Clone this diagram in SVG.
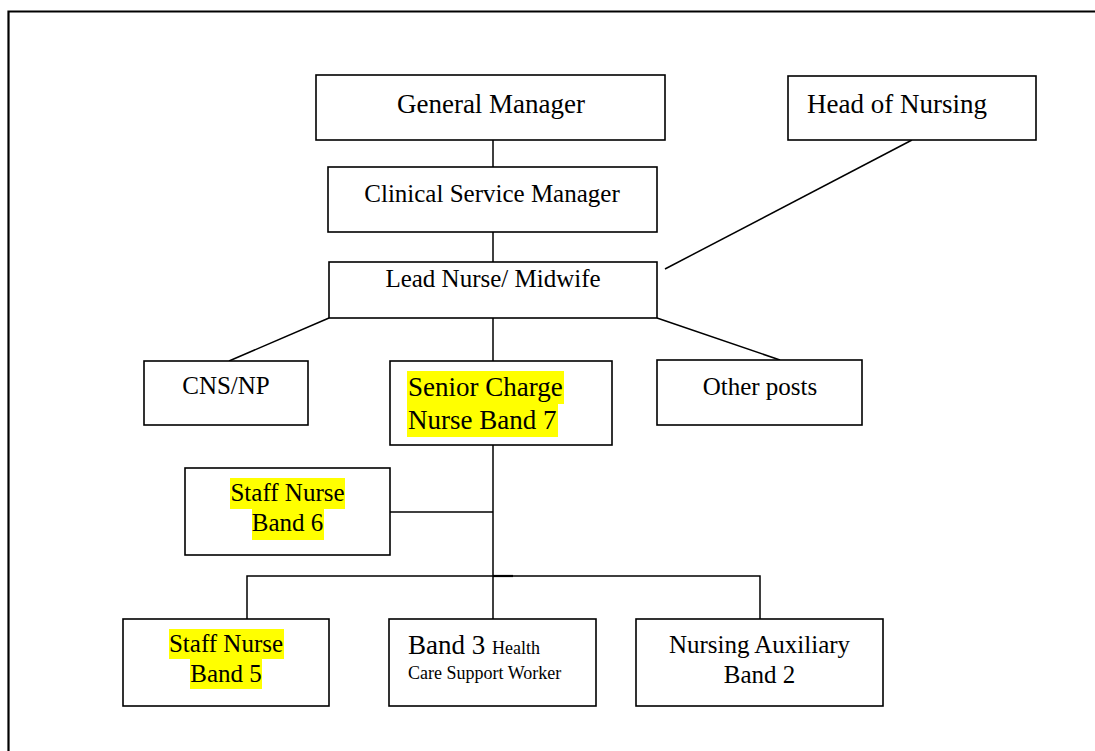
<svg xmlns="http://www.w3.org/2000/svg" width="1095" height="751" viewBox="0 0 1095 751">
<style>
.box{fill:#fff;stroke:#000;stroke-width:1.6}
.ln{stroke:#000;stroke-width:1.5;fill:none}
.t{font-family:"Liberation Serif","Times New Roman",serif;fill:#000;font-size:25px}
.big{font-size:27px}
.sm{font-size:18px}
.c{text-anchor:middle}
.hl{fill:#ffff00}
</style>
<rect width="1095" height="751" fill="#fff"/>
<path d="M8.5 751 V11.5 H1095" fill="none" stroke="#000" stroke-width="2.2"/>
<g id="connectors">
<line class="ln" x1="493" y1="140" x2="493" y2="167"/>
<line class="ln" x1="493" y1="232" x2="493" y2="262"/>
<line class="ln" x1="912" y1="140" x2="665" y2="269"/>
<line class="ln" x1="329" y1="318" x2="229" y2="361"/>
<line class="ln" x1="493" y1="318" x2="493" y2="361"/>
<line class="ln" x1="657" y1="318" x2="780" y2="360"/>
<line class="ln" x1="493" y1="445" x2="493" y2="619"/>
<line class="ln" x1="390" y1="512" x2="493" y2="512"/>
<polyline class="ln" points="247,619 247,576 760,576 760,619"/>
<line x1="493" y1="576" x2="513" y2="576" stroke="#000" stroke-width="2.2"/>
</g>
<g id="general-manager">
<rect class="box" x="316" y="75" width="349" height="65"/>
<text class="t big c" x="491" y="113">General Manager</text>
</g>
<g id="head-of-nursing">
<rect class="box" x="788" y="76" width="248" height="64"/>
<text class="t big" x="807" y="113">Head of Nursing</text>
</g>
<g id="clinical-service-manager">
<rect class="box" x="328" y="167" width="329" height="65"/>
<text class="t c" x="492" y="202">Clinical Service Manager</text>
</g>
<g id="lead-nurse">
<rect class="box" x="329" y="262" width="328" height="56"/>
<text class="t c" x="493" y="287">Lead Nurse/ Midwife</text>
</g>
<g id="cns-np">
<rect class="box" x="144" y="361" width="164" height="64"/>
<text class="t c" x="226" y="394">CNS/NP</text>
</g>
<g id="senior-charge-nurse">
<rect class="box" x="390" y="361" width="222" height="84"/>
<rect class="hl" x="407" y="371" width="157" height="33"/>
<rect class="hl" x="407" y="404" width="151" height="33"/>
<text class="t big" x="408" y="396">Senior Charge</text>
<text class="t big" x="408" y="429">Nurse Band 7</text>
</g>
<g id="other-posts">
<rect class="box" x="657" y="360" width="205" height="65"/>
<text class="t c" x="760" y="395">Other posts</text>
</g>
<g id="staff-nurse-band6">
<rect class="box" x="185" y="468" width="205" height="87"/>
<rect class="hl" x="230" y="478" width="115" height="31"/>
<rect class="hl" x="252" y="509" width="72" height="31"/>
<text class="t c" x="287.5" y="501">Staff Nurse</text>
<text class="t c" x="287.5" y="531">Band 6</text>
</g>
<g id="staff-nurse-band5">
<rect class="box" x="123" y="619" width="206" height="87"/>
<rect class="hl" x="169" y="629" width="115" height="30"/>
<rect class="hl" x="190" y="659" width="72" height="30"/>
<text class="t c" x="226" y="652">Staff Nurse</text>
<text class="t c" x="226" y="682">Band 5</text>
</g>
<g id="band3-hcsw">
<rect class="box" x="389" y="619" width="207" height="87"/>
<text class="t" x="408" y="654"><tspan class="big">Band 3 </tspan><tspan class="sm">Health</tspan></text>
<text class="t sm" x="408" y="679">Care Support Worker</text>
</g>
<g id="nursing-auxiliary">
<rect class="box" x="636" y="619" width="247" height="87"/>
<text class="t c" x="759.5" y="653">Nursing Auxiliary</text>
<text class="t c" x="759.5" y="683">Band 2</text>
</g>
</svg>
